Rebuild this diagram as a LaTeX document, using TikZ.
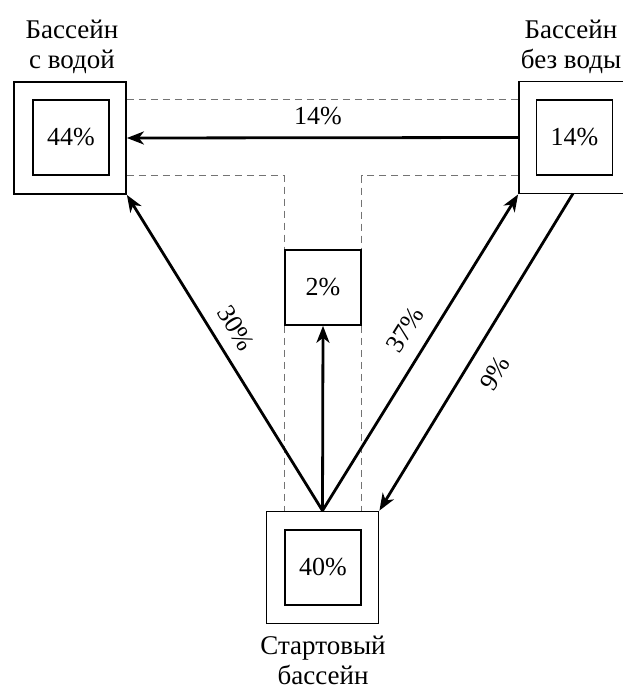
\documentclass[tikz,border=0pt]{standalone}
\usepackage{fontspec}
\setmainfont{Liberation Serif}
\usetikzlibrary{arrows.meta}
\begin{document}
\begin{tikzpicture}[x=1pt,y=-1pt,
  outerbox/.style={draw, line width=1.8pt, minimum width=112pt, minimum height=112pt, inner sep=0pt},
  innerbox/.style={draw, line width=1.6pt, minimum width=76pt, minimum height=75pt, inner sep=0pt, font=\fontsize{26}{29}\selectfont},
  pctlabel/.style={font=\fontsize{26}{29}\selectfont, inner sep=0pt},
  captiontext/.style={font=\fontsize{27}{30}\selectfont, align=center, inner sep=0pt},
  guide/.style={draw=black!55, line width=1pt, dash pattern=on 7pt off 5pt},
  flow/.style={line width=2.8pt, -{Stealth[length=17pt, width=13pt, inset=5pt]}}
]
\useasboundingbox (0,0) rectangle (622,688);
\fill[white] (0,0) rectangle (622,688);
% boxes
\node[outerbox] (lbox) at (70,138) {};
\node[innerbox] (lin) at (71,137.5) {44\%};
\node[outerbox] (rbox) at (575,137.5) {};
\node[innerbox] (rin) at (574.5,137.5) {14\%};
\node[outerbox] (bbox) at (322.5,567.5) {};
\node[innerbox] (bin) at (323,567.5) {40\%};
\node[innerbox] (mbox) at (323,287.5) {2\%};
% captions
\node[captiontext] (lcap) at (72,47) {Бассейн\\с водой};
\node[captiontext] (rcap) at (571,47) {Бассейн\\без воды};
\node[captiontext] (bcap) at (323,660) {Стартовый\\бассейн};
% dashed guides
\draw[guide] (lbox.east |- lin.north) -- (rbox.west |- lin.north);
\draw[guide] (lbox.east |- lin.south) -- (mbox.west |- lin.south) -- (mbox.north west);
\draw[guide] (rbox.west |- lin.south) -- (mbox.east |- lin.south) -- (mbox.north east);
\draw[guide] (mbox.south west) -- (mbox.west |- bbox.north);
\draw[guide] (mbox.south east) -- (mbox.east |- bbox.north);
% flows
\draw[flow] (rbox.west) -- (lbox.east);
\node[pctlabel] (l14) at (318,116) {14\%};
\draw[flow] (bbox.north) -- (lbox.south east);
\node[pctlabel, rotate=-58] (l30) at (236,328) {30\%};
\draw[flow] (bbox.north) -- (mbox.south);
\draw[flow] (bbox.north) -- (rbox.south west);
\node[pctlabel, rotate=58] (l37) at (405,330) {37\%};
\coordinate (rs) at (573,193.5);
\draw[flow] (rs) -- (bbox.north east);
\node[pctlabel, rotate=58] (l9) at (495,373) {9\%};
\end{tikzpicture}
\end{document}
